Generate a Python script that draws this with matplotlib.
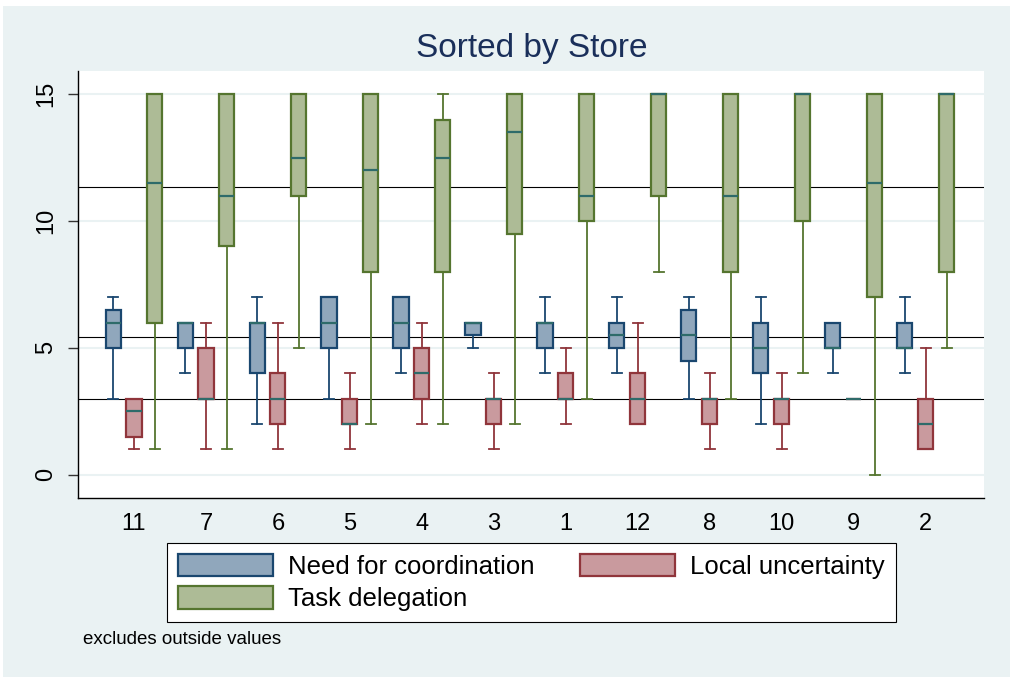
import matplotlib.pyplot as plt
from matplotlib.patches import Patch, Rectangle

# stores in sort order
stores = ['11', '7', '6', '5', '4', '3', '1', '12', '8', '10', '9', '2']

# need for coordination
coord_q1  = [5, 5, 4, 5, 5, 5.5, 5, 5, 4.5, 4, 5, 5]
coord_med = [6, 6, 6, 6, 6, 6, 6, 5.5, 5.5, 5, 5, 5]
coord_q3  = [6.5, 6, 6, 7, 7, 6, 6, 6, 6.5, 6, 6, 6]
coord_lo  = [3, 4, 2, 3, 4, 5, 4, 4, 3, 2, 4, 4]
coord_hi  = [7, 6, 7, 7, 7, 6, 7, 7, 7, 7, 6, 7]

# local uncertainty
local_q1  = [1.5, 3, 2, 2, 3, 2, 3, 2, 2, 2, 3, 1]
local_med = [2.5, 3, 3, 2, 4, 3, 3, 3, 3, 3, 3, 2]
local_q3  = [3, 5, 4, 3, 5, 3, 4, 4, 3, 3, 3, 3]
local_lo  = [1, 1, 1, 1, 2, 1, 2, 2, 1, 1, 3, 1]
local_hi  = [3, 6, 6, 4, 6, 4, 5, 6, 4, 4, 3, 5]

# task delegation
task_q1  = [6, 9, 11, 8, 8, 9.5, 10, 11, 8, 10, 7, 8]
task_med = [11.5, 11, 12.5, 12, 12.5, 13.5, 11, 15, 11, 15, 11.5, 15]
task_q3  = [15, 15, 15, 15, 14, 15, 15, 15, 15, 15, 15, 15]
task_lo  = [1, 1, 5, 2, 2, 2, 3, 8, 3, 4, 0, 5]
task_hi  = [15, 15, 15, 15, 15, 15, 15, 15, 15, 15, 15, 15]

# overall means (reference lines)
means = [11.33, 5.42, 2.97]

names = ['Need for coordination', 'Local uncertainty', 'Task delegation']
faces = ['#90A7BC', '#C99A9E', '#ADBB96']
edges = ['#1A476F', '#90353B', '#55752F']
med_color = '#2E6B6A'

series = [
    (coord_q1, coord_med, coord_q3, coord_lo, coord_hi),
    (local_q1, local_med, local_q3, local_lo, local_hi),
    (task_q1, task_med, task_q3, task_lo, task_hi),
]

bg = '#EAF2F3'
fnt = 'Liberation Sans'
fig = plt.figure(figsize=(10.11, 6.77), dpi=100)
fig.patch.set_facecolor('white')
fig.patches.append(Rectangle((3 / 1011, 0), 1007 / 1011, 671 / 677,
                             transform=fig.transFigure, facecolor=bg,
                             edgecolor='none', zorder=-10))

ax = fig.add_axes([78 / 1011, 1 - 498 / 677, 906 / 1011, 427 / 677])
ax.set_facecolor('white')

offsets = [-0.29, 0.0, 0.29]
for k, (q1, med, q3, lo, hi) in enumerate(series):
    stats = []
    for i in range(len(stores)):
        stats.append(dict(med=med[i], q1=q1[i], q3=q3[i],
                          whislo=lo[i], whishi=hi[i], fliers=[]))
    pos = [i + offsets[k] for i in range(len(stores))]
    ax.bxp(stats, positions=pos, widths=0.21, patch_artist=True,
           showfliers=False, manage_ticks=False,
           boxprops=dict(facecolor=faces[k], edgecolor=edges[k], linewidth=1.6),
           whiskerprops=dict(color=edges[k], linewidth=1.3),
           capprops=dict(color=edges[k], linewidth=1.3),
           capwidths=0.14,
           medianprops=dict(color=med_color, linewidth=1.6),
           zorder=3)

for m in means:
    ax.axhline(m, color='black', linewidth=0.8, zorder=2)

ax.set_xlim(-0.778, 11.81)
ax.set_ylim(-0.92, 15.92)
ax.set_xticks(range(len(stores)))
ax.set_xticklabels(stores, fontsize=17, family=fnt)
ax.tick_params(axis='x', length=0, pad=11)
ax.set_yticks([0, 5, 10, 15])
ax.set_yticklabels(['0', '5', '10', '15'], fontsize=17, family=fnt,
                   rotation=90, va='center')
ax.tick_params(axis='y', length=7, width=1, color='#333333', pad=8)
ax.yaxis.grid(True, color=bg, linewidth=1.5, zorder=0)
ax.set_axisbelow(True)
for s in ['top', 'right']:
    ax.spines[s].set_visible(False)
for s in ['left', 'bottom']:
    ax.spines[s].set_color('black')
    ax.spines[s].set_linewidth(1.0)

fig.text(532 / 1011, 1 - 48 / 677, 'Sorted by Store', fontsize=24,
         family=fnt, color='#1A2F5A', ha='center', va='center')

handles = [Patch(facecolor=faces[k], edgecolor=edges[k], linewidth=1.6, label=names[k])
           for k in range(3)]
order = [0, 2, 1]
leg = fig.legend([handles[i] for i in order], [names[i] for i in order],
                 ncol=2, loc='upper left',
                 bbox_to_anchor=(167 / 1011, 1 - 543 / 677),
                 prop={'family': fnt, 'size': 18.5},
                 handlelength=3.7, handleheight=0.95, handletextpad=0.6,
                 columnspacing=1.75, labelspacing=0.3, borderpad=0.42,
                 fancybox=False, framealpha=1, edgecolor='black', borderaxespad=0)
leg.get_frame().set_linewidth(0.8)

fig.text(83 / 1011, 1 - 640 / 677, 'excludes outside values', fontsize=13.5,
         family=fnt, ha='left', va='center')

fig.savefig('out.png', dpi=100, facecolor=fig.get_facecolor())
